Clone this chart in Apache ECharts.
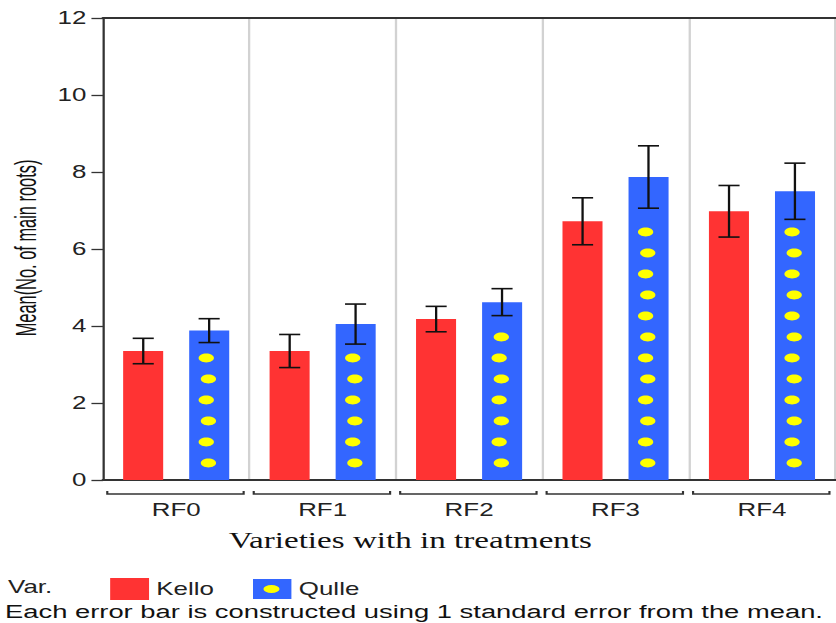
<!DOCTYPE html>
<html>
<head>
<meta charset="utf-8">
<style>
html,body{margin:0;padding:0;background:#fff;overflow:hidden;}
#c{width:581px;height:623px;transform:scaleX(1.44);transform-origin:0 0;}
</style>
<script src="https://cdn.jsdelivr.net/npm/echarts@6/dist/echarts.min.js"></script>
</head>
<body>
<div id="c"></div>
<script>
// ---- data ----
var categories = ['RF0', 'RF1', 'RF2', 'RF3', 'RF4'];
var kelloMean = [3.35, 3.35, 4.18, 6.72, 6.98];
var kelloSE   = [0.33, 0.43, 0.33, 0.61, 0.67];
var qulleMean = [3.88, 4.05, 4.62, 7.87, 7.50];
var qulleSE   = [0.31, 0.52, 0.35, 0.81, 0.73];
var yTicks = { min: 0, max: 12, interval: 2 };
var seriesNames = ['Kello', 'Qulle'];

var RED = '#ff3333', BLUE = '#3366ff', YELLOW = '#ffff00';
var FONT = 'Liberation Sans, Arial, sans-serif';
var OFF = 0.225;   // bar-centre offset as fraction of band width
var CAP = 0.072;   // half cap width as fraction of band width

function errData(mean, se) {
  return mean.map(function (m, i) { return [i, m - se[i], m + se[i]]; });
}
function errRender(sign) {
  return function (params, api) {
    var i = api.value(0), lo = api.value(1), hi = api.value(2);
    var bw = api.size([1, 0])[0];
    var cx = api.coord([i, 0])[0] + sign * OFF * bw;
    var yl = api.coord([i, lo])[1], yh = api.coord([i, hi])[1];
    var hw = CAP * bw;
    var st = { stroke: '#111', lineWidth: 1.6 };
    return { type: 'group', children: [
      { type: 'line', shape: { x1: cx, y1: yh, x2: cx, y2: yl }, style: st },
      { type: 'line', shape: { x1: cx - hw, y1: yh, x2: cx + hw, y2: yh }, style: st },
      { type: 'line', shape: { x1: cx - hw, y1: yl, x2: cx + hw, y2: yl }, style: st }
    ]};
  };
}
function dotRender(params, api) {
  var i = api.value(0), lo = api.value(2);
  var bw = api.size([1, 0])[0];
  var base = api.coord([i, 0])[1];
  var limit = api.coord([i, lo])[1] + 12;
  var cx = api.coord([i, 0])[0] + OFF * bw - 1;
  var kids = [], k = 0;
  for (var y = base - 17; y >= limit; y -= 21) {
    kids.push({ type: 'ellipse', shape: { cx: cx + (k % 2 ? -1 : 0.5), cy: y, rx: 5.3, ry: 4.4 }, style: { fill: YELLOW } });
    k++;
  }
  return { type: 'group', children: kids };
}
function bracketRender(params, api) {
  var i = api.value(0);
  var bw = api.size([1, 0])[0];
  var c = api.coord([i, 0]);
  var x0 = c[0] - bw / 2 + 3, x1 = c[0] + bw / 2 - 4, y = c[1] + 14;
  return { type: 'polyline', shape: { points: [[x0, y - 3], [x0, y], [x1, y], [x1, y - 3]] },
           style: { stroke: '#333', lineWidth: 1.5, fill: null } };
}

var legendIcon = 'image://data:image/svg+xml;charset=utf-8,' + encodeURIComponent(
  "<svg xmlns='http://www.w3.org/2000/svg' width='27' height='20' viewBox='0 0 27 20'>" +
  "<rect width='27' height='20' fill='" + BLUE + "'/>" +
  "<ellipse cx='13' cy='10' rx='5.6' ry='4' fill='" + YELLOW + "'/></svg>");

var chart = echarts.init(document.getElementById('c'), null, { renderer: 'svg' });
chart.setOption({
  animation: false,
  backgroundColor: '#fff',
  textStyle: { fontFamily: FONT },
  grid: { left: 71.5, right: 1, top: 18, bottom: 143 },
  legend: {
    left: 71.5, top: 573, itemWidth: 27, itemHeight: 22, itemGap: 27,
    textStyle: { fontSize: 18, color: '#222', fontFamily: FONT },
    selectedMode: false,
    data: [{ name: seriesNames[0], icon: 'rect' }, { name: seriesNames[1], icon: legendIcon }]
  },
  xAxis: [{
    type: 'category', data: categories, position: 'bottom',
    axisLine: { lineStyle: { color: '#333', width: 2 } },
    axisTick: { show: false },
    axisLabel: { fontSize: 18, color: '#222', margin: 21, fontFamily: FONT },
    splitLine: { show: true, interval: 0, lineStyle: { color: '#d2d2d2', width: 1.6 } }
  }, {
    type: 'category', data: categories, position: 'top',
    axisLine: { lineStyle: { color: '#333', width: 2 } },
    axisTick: { show: false }, axisLabel: { show: false }, splitLine: { show: false }
  }],
  yAxis: {
    type: 'value', min: yTicks.min, max: yTicks.max, interval: yTicks.interval,
    axisLine: { show: true, lineStyle: { color: '#333', width: 1.5 } },
    axisTick: { show: true, length: 8, lineStyle: { color: '#333', width: 1.3 } },
    axisLabel: { fontSize: 18, color: '#222', margin: 11.5, fontFamily: FONT },
    splitLine: { show: false }
  },
  graphic: [
    { type: 'text', left: 5.6, top: 578, style: { text: 'Var.', fontSize: 18, fill: '#222', fontFamily: FONT } },
    { type: 'text', x: 3.5, y: 602, style: { text: 'Each error bar is constructed using 1 standard error from the mean.', fontSize: 19, fill: '#111', fontFamily: FONT } },
    { type: 'text', x: 285, y: 529, style: { text: 'Varieties with in treatments', fontSize: 23, fill: '#111', align: 'center', fontFamily: 'Liberation Serif, Times New Roman, serif' } },
    { type: 'text', x: 18, y: 248, rotation: Math.PI / 2, scaleX: 0.82,
      style: { text: 'Mean(No. of main roots)', fontSize: 20, fill: '#111', align: 'center', verticalAlign: 'middle', fontFamily: FONT } }
  ],
  series: [
    { name: seriesNames[0], type: 'bar', data: kelloMean, barWidth: 27.8, barGap: '65%',
      itemStyle: { color: RED }, z: 2 },
    { name: seriesNames[1], type: 'bar', data: qulleMean, barWidth: 27.8, barGap: '65%',
      itemStyle: { color: BLUE }, z: 2 },
    { name: 'dots', type: 'custom', renderItem: dotRender, z: 3,
      data: errData(qulleMean, qulleSE).map(function (d, i) { return [i, qulleMean[i], d[1]]; }) },
    { name: 'errK', type: 'custom', renderItem: errRender(-1), data: errData(kelloMean, kelloSE), z: 4 },
    { name: 'errQ', type: 'custom', renderItem: errRender(1), data: errData(qulleMean, qulleSE), z: 4 },
    { name: 'brackets', type: 'custom', renderItem: bracketRender, clip: false, silent: true,
      data: categories.map(function (c, i) { return [i]; }), z: 4 }
  ]
});
</script>
</body>
</html>
